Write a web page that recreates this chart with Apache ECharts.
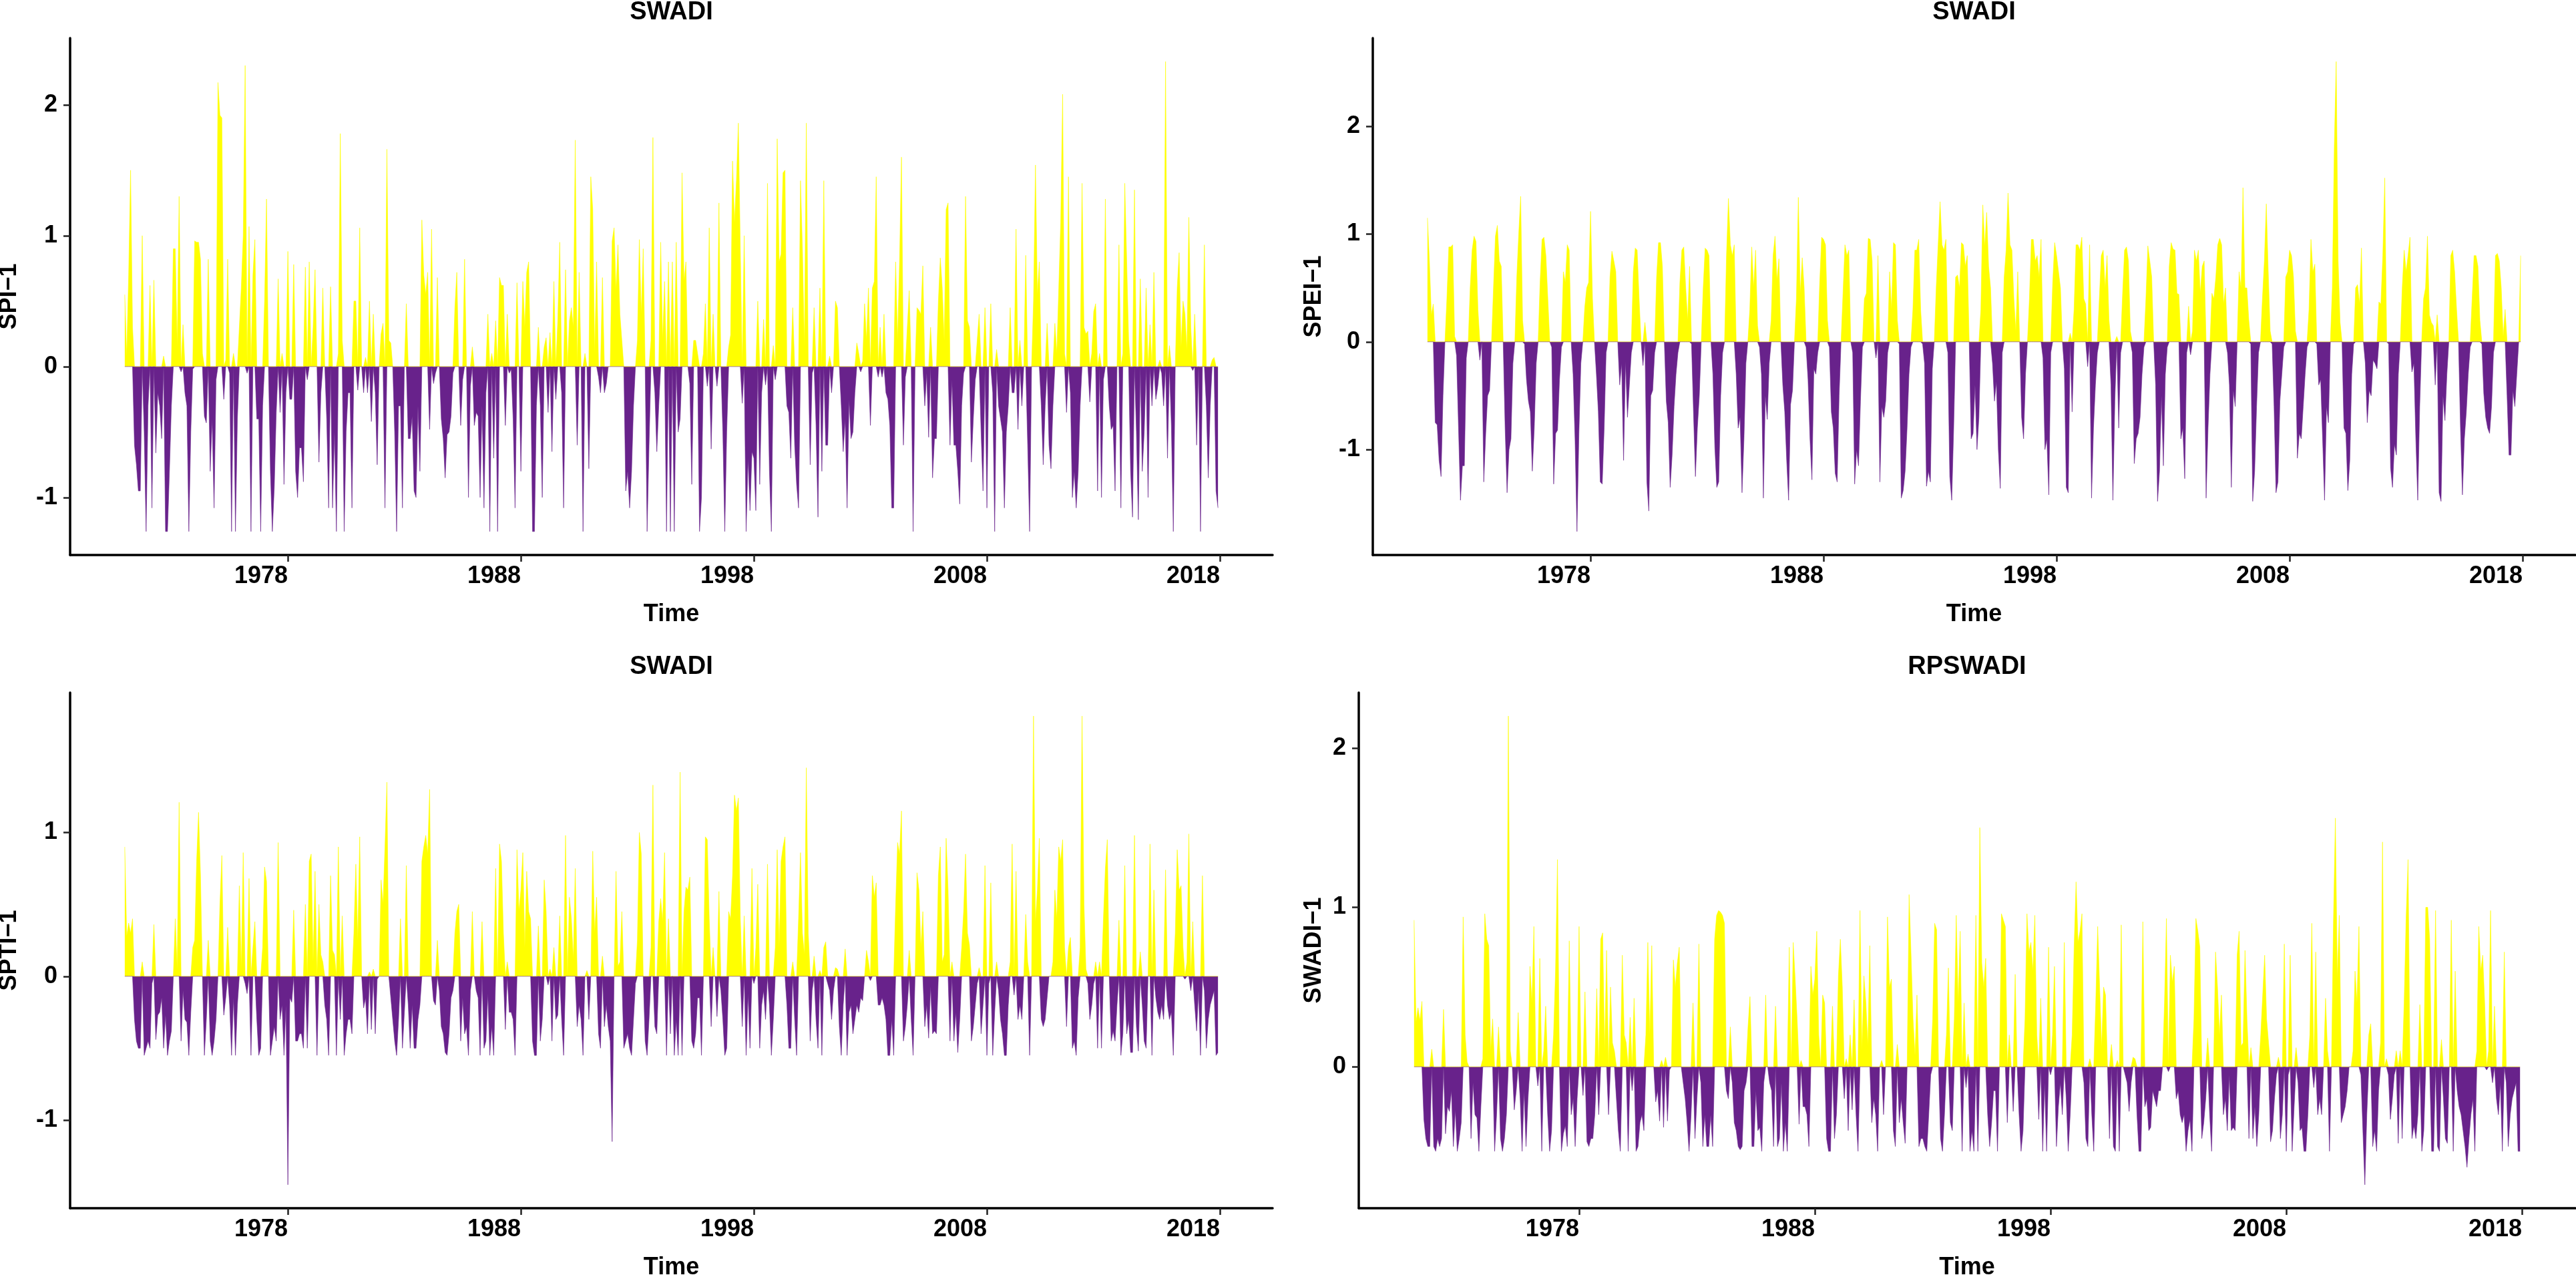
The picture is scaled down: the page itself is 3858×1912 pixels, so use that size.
<!DOCTYPE html>
<html>
<head>
<meta charset="utf-8">
<title>SWADI</title>
<script src="https://cdn.jsdelivr.net/npm/echarts@6/dist/echarts.min.js"></script>
<style>
  html, body { margin: 0; padding: 0; background: #fff; }
  #chart { width: 3858px; height: 1912px; }
</style>
</head>
<body>
<div id="chart"></div>
<script>
// monthly series, Jan 1971 .. Dec 2017 (one row per year)
const startYear = 1971;
const xTicks = [1978, 1988, 1998, 2008, 2018];
const titles = ["SWADI", "SWADI", "SWADI", "RPSWADI"];
const yNames = ["SPI\u22121", "SPEI\u22121", "SPTI\u22121", "SWADI\u22121"];
const yTicks = [[-1, 0, 1, 2], [-1, 0, 1, 2], [-1, 0, 1], [0, 1, 2]];

const spi1 = [
  0.55, 0.08, 0.7, 1.5, 0.3, -0.6, -0.75, -0.95, -0.95, 1.0, -0.5, -1.26,
  -0.3, 0.62, -1.08, 0.66, -0.66, -0.2, -0.3, -0.55, 0.08, -1.26, -1.26, -0.8,
  -0.3, 0.9, 0.9, 0.15, 1.3, -0.04, 0.32, -0.2, -0.3, -1.26, -0.5, -0.02,
  0.96, 0.95, 0.95, 0.82, 0.1, -0.38, -0.43, 0.82, -0.8, -0.4, -1.08, -0.1,
  2.17, 1.92, 1.9, -0.25, 0.05, 0.82, -0.05, -1.26, 0.1, -1.26, -0.4, 0.3,
  0.6, 1.0, 2.3, -0.05, 1.07, -1.26, 0.7, 0.97, -0.4, -0.4, -1.26, -0.3,
  0.5, 1.28, 0.0, -0.8, -1.26, -0.92, -0.35, 0.67, -0.35, 0.1, -0.9, -0.2,
  0.88, -0.25, -0.25, 0.78, -0.8, -1.0, -0.62, -0.62, -0.88, 0.76, -0.1, 0.8,
  0.0, 0.3, 0.74, 0.0, -0.73, -0.2, 0.6, 0.0, -0.4, -1.08, 0.61, -1.08,
  -0.5, -1.26, 0.1, 1.78, 0.2, -1.26, -0.5, -0.2, -0.2, -1.08, 0.5, 0.5,
  -0.18, 1.06, 0.0, -0.2, 0.07, -0.2, 0.5, -0.42, 0.4, -0.2, -0.75, 0.0,
  0.25, 0.33, -1.08, 1.66, 0.2, 0.18, 0.0, -0.5, -1.26, -0.3, -0.3, -1.08,
  0.0, 0.48, -0.55, -0.55, -0.38, -0.95, -1.0, -0.3, -0.8, 1.12, 0.7, 0.55,
  0.72, -0.48, 1.05, -0.13, -0.05, 0.68, 0.0, -0.4, -0.55, -0.85, -0.52, -0.5,
  -0.38, -0.05, 0.45, 0.72, 0.0, -0.45, -0.1, 0.82, 0.0, -1.0, -0.15, 0.15,
  -0.45, -0.35, -0.38, -1.0, -0.3, -1.08, -0.2, 0.4, -1.26, 0.1, -0.7, 0.35,
  -1.26, 0.68, 0.62, 0.62, -0.45, 0.4, -0.05, -0.02, -0.4, -1.08, 0.64, 0.0,
  -0.8, 0.65, 0.3, 0.72, 0.8, 0.0, -1.26, -1.26, -0.3, 0.3, -0.3, -1.0,
  0.15, 0.22, -0.35, 0.26, -0.65, 0.65, -0.25, 0.35, 0.95, -0.2, -1.08, 0.74,
  0.0, 0.35, 0.45, 0.3, 1.73, -0.6, 0.72, 0.0, -1.26, 0.1, 0.0, -0.78,
  1.45, 1.2, 0.1, 0.8, -0.08, -0.2, 0.68, -0.2, -0.13, 0.0, 0.0, 0.96,
  1.06, 0.58, 0.93, 0.4, 0.2, 0.0, -0.95, -0.8, -1.08, -0.8, -0.3, 0.0,
  0.2, 0.97, 0.4, 0.9, 0.0, -1.26, -0.6, 0.2, 1.75, -0.2, -0.65, -0.3,
  0.95, 0.2, 0.65, -1.26, 0.8, -1.26, 0.8, -1.26, 0.95, -0.5, -0.4, 1.48,
  0.65, 0.8, 0.0, -0.13, -0.9, 0.2, 0.2, 0.1, -1.26, -1.0, 0.1, 0.48,
  -0.15, 1.06, -0.63, 0.4, 0.0, -0.15, 1.25, 0.0, -0.5, -1.26, -0.5, 0.15,
  0.24, 1.57, 1.1, 1.42, 1.86, 0.9, -0.28, 1.0, -1.26, -0.7, -1.1, -0.65,
  -0.7, -1.1, 0.5, -0.9, -0.2, 0.36, -0.14, 1.4, -0.8, -1.26, 0.16, -0.1,
  1.74, 0.8, 0.86, 1.48, 1.5, -0.3, -0.35, -0.7, 0.45, -0.6, -0.9, -1.08,
  1.42, 0.9, 0.15, 1.86, 0.0, -0.75, -0.05, 0.45, -0.45, -1.15, 0.6, -0.8,
  1.42, -0.6, -0.6, 0.08, -0.2, 0.0, 0.5, 0.45, 0.0, -0.3, -0.65, -0.4,
  -1.08, -0.25, -0.55, -0.5, -0.2, 0.18, 0.1, -0.04, 0.04, 0.48, 0.2, 0.6,
  -0.45, 0.6, 0.65, 1.45, -0.08, 0.3, -0.08, 0.4, -0.2, -0.25, -0.45, -1.08,
  -1.08, 0.8, 0.2, 0.8, 1.6, -0.6, -0.08, 0.3, 0.58, 0.0, -1.26, 0.0,
  0.45, 0.43, 0.4, 0.77, -0.3, -0.05, -0.54, 0.3, -0.85, -0.55, -0.55, 0.5,
  0.83, 0.6, 0.2, 1.2, 1.25, -0.6, -0.1, -0.6, -0.6, -0.8, -1.05, -0.3,
  -0.05, 1.3, 0.35, 0.3, -0.73, -0.4, -0.1, 0.2, 0.4, -0.5, -0.95, 0.45,
  -1.08, 0.0, 0.48, -0.2, -1.26, 0.13, -0.3, -0.4, -0.5, -1.08, -0.5, -0.3,
  0.45, -0.2, -0.2, 1.05, -0.48, 0.2, -0.3, 0.0, 0.85, -0.6, -1.26, 0.0,
  0.5, 1.54, 0.55, 0.8, -0.3, -0.75, -0.3, 0.33, -0.6, -0.78, -0.3, 0.33,
  0.1, 0.6, 1.1, 2.08, 0.1, -0.35, 1.45, -0.2, -1.0, -0.8, -1.08, -0.8,
  -0.3, 1.4, 0.3, 0.25, 0.27, -0.27, 0.1, 0.42, 0.48, -0.95, 0.1, -1.0,
  -0.1, 1.28, 0.0, -0.3, -0.48, -0.45, -0.95, 0.0, 0.93, -1.08, 0.1, 1.4,
  0.8, 0.2, -0.8, -1.15, 1.35, -0.5, -1.17, 0.67, -0.8, -0.5, 0.6, -1.0,
  0.32, -0.3, 0.72, -0.25, -0.15, 0.05, -0.05, -0.3, 2.33, -0.7, 0.16, -0.45,
  -1.26, 0.0, 0.6, 0.87, 0.15, 0.5, 0.4, 0.12, 1.14, 0.3, -0.03, 0.4,
  -0.6, 0.0, -1.26, 0.0, 0.93, -0.3, -0.85, -0.3, 0.05, 0.07, -0.95, -1.08
];

const spei1 = [
  1.15, 0.75, 0.25, 0.35, -0.75, -0.77, -1.1, -1.25, -0.5, 0.0, 0.4, 0.88,
  0.88, 0.9, 0.05, -0.13, -0.8, -1.47, -1.15, -1.15, -0.15, 0.0, 0.5, 0.85,
  0.98, 0.93, 0.3, -0.17, 0.0, -1.3, -0.85, -0.5, -0.45, 0.0, 0.5, 0.98,
  1.08, 0.75, 0.7, 0.0, -0.8, -1.4, -1.0, -0.9, -0.2, 0.0, 0.6, 1.0,
  1.35, 0.2, -0.02, -0.35, -0.55, -0.65, -1.2, -0.8, -0.2, 0.0, 0.55, 0.95,
  0.97, 0.8, 0.4, 0.0, -0.05, -1.32, -0.85, -0.82, -0.35, -0.05, 0.65, 0.55,
  0.9, 0.85, 0.0, -0.3, -0.9, -1.76, -0.85, -0.2, 0.0, 0.32, 0.5, 0.55,
  1.21, 0.4, 0.0, -0.3, -0.65, -1.3, -1.32, -0.8, -0.1, 0.0, 0.6, 0.84,
  0.75, 0.65, 0.0, -0.4, -0.2, -1.1, -0.18, -0.7, -0.4, -0.1, 0.65, 0.87,
  0.85, 0.4, 0.0, -0.22, 0.18, -1.3, -1.57, -0.5, -0.45, -0.1, 0.6, 0.92,
  0.92, 0.7, 0.0, -0.55, -0.75, -1.35, -1.05, -0.6, -0.3, -0.1, 0.55, 0.85,
  0.88, 0.5, 0.2, 0.7, -0.02, -0.65, -1.25, -0.8, -0.5, 0.0, 0.5, 0.87,
  0.85, 0.8, 0.0, -0.3, -0.98, -1.35, -1.3, -0.5, -0.1, 0.0, 0.8, 1.33,
  0.9, 0.8, 0.9, -0.3, -0.8, -0.7, -1.4, -0.9, -0.2, 0.0, 0.3, 0.88,
  0.5, 0.85, 0.15, -0.05, -0.3, -1.45, -0.5, -0.72, -0.2, 0.2, 0.8, 0.98,
  0.57, 0.77, 0.0, -0.4, -0.65, -1.1, -1.47, -0.58, -0.45, 0.0, 0.4, 1.34,
  0.45, 0.78, 0.5, -0.05, -0.35, -0.9, -1.28, -0.25, -0.3, -0.1, 0.55, 0.97,
  0.95, 0.9, 0.2, -0.05, -0.65, -0.8, -1.22, -1.3, -0.5, 0.0, 0.45, 0.9,
  0.8, 0.85, 0.0, -0.1, -1.32, -1.0, -1.15, -0.55, -0.05, 0.4, 0.45, 0.96,
  0.95, 0.75, 0.0, -0.15, 0.8, -1.3, -0.6, -0.7, -0.55, -0.1, 0.65, 0.3,
  0.92, 0.9, 0.2, -0.02, -1.45, -1.38, -1.2, -0.8, -0.3, -0.05, 0.3, 0.85,
  0.85, 0.95, 0.3, -0.02, -0.2, -1.34, -1.2, -1.3, -0.25, 0.0, 0.5, 0.9,
  1.3, 0.9, 0.85, 0.95, -0.1, -1.25, -1.47, -0.8, 0.6, 0.62, 0.5, 0.92,
  0.9, 0.7, 0.8, 0.0, -0.9, -0.85, -0.4, -1.0, -0.7, 0.3, 1.27, 0.88,
  1.2, 0.7, 0.5, -0.2, -0.55, -0.37, -1.0, -1.36, -0.1, 0.6, 0.85, 1.38,
  0.9, 0.85, 0.4, 0.1, 0.65, 0.0, -0.7, -0.9, -0.3, 0.0, 0.4, 0.95,
  0.95, 0.75, 0.8, 0.6, 0.95, -0.15, -1.0, -0.9, -1.42, -0.1, 0.55, 0.92,
  0.8, 0.65, 0.5, 0.0, -0.25, -1.35, -1.4, 0.08, -0.65, 0.3, 0.9, 0.9,
  0.85, 0.97, 0.4, 0.35, -0.23, 0.9, -1.45, -0.8, -0.4, -0.1, 0.4, 0.8,
  0.85, 0.5, 0.8, 0.2, -0.4, -1.47, -0.55, 0.05, -0.8, -0.1, 0.45, 0.85,
  0.88, 0.75, 0.1, -0.1, -1.13, -0.9, -0.85, -0.7, -0.3, -0.05, 0.4, 0.89,
  0.75, 0.6, 0.0, -0.4, -1.48, -1.2, -0.5, -1.15, -0.3, -0.05, 0.7, 0.92,
  0.86, 0.85, 0.45, 0.44, -0.9, -0.8, -1.27, -0.1, 0.33, -0.12, 0.1, 0.85,
  0.75, 0.85, 0.45, 0.7, 0.75, -1.45, -0.8, -0.3, 0.45, 0.4, 0.6, 0.9,
  0.96, 0.9, 0.35, 0.5, -0.1, -0.4, -1.35, -0.45, -0.6, 0.0, 0.65, 0.5,
  1.43, 0.5, 0.5, 0.2, -0.02, -1.48, -1.2, -0.6, -0.1, 0.0, 0.4, 0.75,
  1.28, 0.65, 0.1, -0.02, -0.6, -1.4, -1.3, -0.55, -0.3, -0.05, 0.6, 0.65,
  0.85, 0.8, 0.6, 0.1, -1.08, -0.85, -0.9, -0.6, -0.3, -0.05, 0.3, 0.95,
  0.65, 0.72, -0.02, -0.4, -0.35, -0.9, -1.47, -0.6, -0.75, 0.0, 0.5, 1.8,
  2.6, 0.75, 0.18, 0.0, -0.8, -0.85, -1.38, -1.1, -0.3, -0.02, 0.5, 0.53,
  0.35, 0.87, 0.0, -0.2, -0.75, -0.45, -0.5, -0.17, -0.2, -0.25, 0.37, 0.35,
  0.8, 1.52, 0.0, -0.02, -1.17, -1.35, -0.95, -1.05, -0.3, 0.0, 0.5, 0.85,
  0.65, 0.8, 0.97, -0.28, -0.2, -0.9, -1.47, -0.6, 0.0, 0.4, 0.5, 0.98,
  0.25, 0.18, 0.15, -0.4, 0.25, -1.4, -1.48, -0.5, -0.73, -0.3, 0.0, 0.8,
  0.85, 0.65, 0.3, 0.0, -0.8, -1.42, -0.9, -0.65, -0.3, -0.05, 0.4, 0.8,
  0.8, 0.7, 0.2, -0.02, -0.48, -0.7, -0.8, -0.85, -0.6, -0.1, 0.8, 0.82,
  0.75, 0.5, 0.05, 0.3, -0.5, -1.05, -1.05, -0.45, -0.6, -0.3, 0.0, 0.8
];

const spti1 = [
  0.9, 0.28, 0.37, 0.3, 0.4, -0.3, -0.45, -0.5, -0.5, 0.1, -0.55, -0.5,
  -0.45, -0.5, -0.05, 0.36, -0.44, -0.27, -0.25, -0.15, -0.5, -0.27, -0.55, -0.45,
  -0.38, 0.0, 0.4, 0.05, 1.21, -0.45, -0.1, -0.3, -0.32, -0.55, -0.25, 0.2,
  0.25, 0.8, 1.14, 0.7, 0.0, -0.55, -0.3, 0.25, -0.45, -0.55, -0.45, -0.3,
  0.0, 0.5, 0.84, -0.27, -0.15, 0.34, -0.2, -0.55, -0.15, -0.55, -0.2, 0.63,
  0.05, 0.86, -0.05, -0.12, 0.68, -0.55, 0.2, 0.38, -0.3, -0.55, -0.5, 0.2,
  0.76, 0.66, 0.0, -0.55, -0.45, -0.35, -0.45, 0.93, -0.3, -0.2, -0.55, -0.2,
  -1.45, -0.15, -0.18, 0.46, -0.45, -0.45, -0.4, -0.4, -0.5, 0.5, -0.5, 0.8,
  0.85, 0.1, 0.73, -0.55, 0.5, 0.15, 0.1, -0.2, -0.3, -0.55, 0.7, 0.18,
  0.15, -0.55, 0.9, -0.3, 0.42, -0.55, -0.4, -0.3, -0.3, -0.4, 0.3, 0.78,
  0.25, 0.97, 0.0, -0.22, -0.15, -0.4, 0.03, -0.37, 0.05, -0.4, -0.02, 0.0,
  0.67, 0.5, 0.9, 1.35, 0.0, -0.15, -0.3, -0.45, -0.55, -0.3, 0.4, -0.5,
  -0.25, 0.77, -0.2, -0.5, -0.2, -0.5, -0.5, -0.3, -0.2, 0.8, 0.9, 0.98,
  0.85, 1.3, 0.0, -0.17, -0.2, 0.25, -0.1, -0.35, -0.4, -0.53, -0.55, -0.4,
  -0.15, -0.1, 0.3, 0.45, 0.5, -0.45, -0.15, -0.4, -0.35, -0.55, -0.1, 0.45,
  0.0, -0.1, -0.15, -0.55, 0.38, -0.5, -0.45, -0.12, -0.55, -0.35, -0.55, 0.75,
  0.0, 0.92, 0.8, 0.3, -0.37, 0.1, -0.25, -0.25, -0.3, -0.55, 0.88, 0.45,
  0.6, 0.86, 0.2, 0.73, 0.45, 0.4, -0.45, -0.55, -0.55, 0.35, -0.45, -0.3,
  0.67, 0.45, -0.06, 0.05, -0.45, 0.2, -0.3, -0.27, 0.42, -0.3, -0.55, 0.98,
  0.0, 0.55, 0.4, 0.12, 0.75, -0.35, -0.2, -0.3, -0.55, 0.0, 0.04, -0.3,
  0.0, 0.87, 0.3, 0.55, -0.4, -0.5, 0.14, -0.35, -0.2, -0.35, -0.45, -1.15,
  0.0, 0.73, 0.07, 0.1, 0.45, -0.5, -0.45, -0.4, -0.5, -0.55, -0.3, -0.05,
  0.25, 1.0, 0.85, 0.0, -0.45, -0.55, -0.3, 0.2, 1.33, -0.35, -0.4, 0.38,
  0.54, 0.38, 0.86, -0.55, 0.4, -0.4, 0.0, -0.55, -0.3, -0.55, 1.42, -0.55,
  0.45, 0.62, 0.6, 0.69, -0.45, -0.5, -0.4, -0.15, -0.15, -0.55, 0.0, 0.97,
  0.95, 0.4, -0.35, 0.2, 0.0, -0.28, 0.59, -0.1, -0.3, -0.55, -0.5, 0.45,
  0.4, 0.7, 1.26, 1.15, 1.24, 0.4, -0.35, 0.42, -0.55, -0.12, -0.5, 0.75,
  -0.05, 0.2, 0.64, -0.5, -0.2, -0.1, -0.3, 0.78, -0.2, -0.55, -0.3, 0.2,
  0.88, 0.2, 0.8, 0.9, 0.97, -0.2, -0.5, -0.5, 0.1, -0.3, -0.55, 0.4,
  0.86, 0.3, 0.15, 1.45, 0.3, -0.45, -0.1, 0.14, -0.3, -0.5, 0.04, -0.55,
  0.2, 0.24, -0.05, -0.1, -0.3, -0.1, 0.06, 0.05, -0.35, -0.55, -0.2, 0.19,
  -0.55, -0.25, -0.2, -0.4, -0.3, -0.2, -0.25, -0.15, -0.17, 0.0, 0.18, 0.1,
  -0.03, 0.7, 0.55, 0.65, -0.2, -0.2, -0.15, -0.2, -0.3, -0.55, -0.55, -0.3,
  -0.55, 0.5, 0.93, 0.85, 1.15, -0.45, -0.35, -0.2, 0.18, -0.3, -0.55, 0.0,
  0.72, 0.6, 0.2, 0.45, -0.35, -0.2, -0.43, -0.07, -0.4, -0.38, -0.4, 0.7,
  0.9, 0.1, 0.15, 0.96, 0.6, -0.45, 0.1, -0.45, -0.25, -0.53, -0.3, 0.2,
  0.45, 0.85, 0.3, 0.22, -0.45, -0.35, -0.2, -0.05, 0.06, -0.4, -0.2, 0.77,
  -0.55, -0.05, 0.65, -0.55, -0.25, 0.1, -0.1, -0.3, -0.4, -0.55, -0.55, -0.2,
  0.1, 0.92, -0.13, 0.73, -0.3, -0.2, -0.3, 0.0, 0.43, 0.1, -0.55, 0.0,
  1.81, 0.38, 0.6, 0.96, -0.3, -0.35, -0.3, -0.15, 0.0, 0.0, 0.1, 0.6,
  0.4, 0.9, 0.8, 0.95, 0.2, -0.35, 0.2, 0.27, -0.5, -0.45, -0.55, -0.15,
  0.2, 1.81, 0.5, 0.05, -0.05, -0.3, -0.2, -0.05, 0.1, -0.5, 0.1, -0.5,
  0.4, 0.75, 0.95, 0.0, -0.45, -0.38, -0.45, -0.2, 0.39, -0.55, -0.4, 0.77,
  -0.4, -0.3, -0.53, -0.53, 0.98, -0.35, -0.52, 0.17, -0.2, -0.45, -0.5, 0.0,
  0.92, -0.55, 0.6, -0.15, -0.25, -0.3, -0.2, -0.3, 0.74, -0.2, -0.3, -0.25,
  -0.55, 0.3, 0.88, 0.6, 0.63, 0.2, -0.02, 0.1, 0.99, -0.1, 0.38, -0.2,
  -0.38, -0.1, -0.55, 0.7, -0.1, -0.5, -0.3, -0.2, -0.15, -0.1, -0.55, -0.53
];

const swadi1 = [
  0.92, 0.28, 0.37, 0.29, 0.41, -0.33, -0.45, -0.5, -0.5, 0.11, -0.5, -0.53,
  -0.45, -0.5, -0.45, 0.36, -0.42, -0.25, -0.28, -0.15, -0.5, -0.27, -0.53, -0.45,
  -0.35, 0.94, 0.2, 0.03, 0.0, -0.45, -0.1, -0.3, -0.32, -0.53, -0.25, 0.05,
  0.96, 0.8, 0.76, 0.1, 0.3, -0.53, -0.3, 0.25, -0.45, -0.53, -0.45, -0.3,
  2.2, 0.1, 0.0, -0.27, -0.15, 0.34, -0.2, -0.53, -0.15, -0.5, -0.2, 0.63,
  0.4, 0.88, 0.0, -0.12, 0.68, -0.53, 0.1, 0.38, -0.3, -0.53, -0.4, 0.2,
  0.6, 1.3, 0.0, -0.53, -0.42, -0.37, -0.5, 0.79, -0.3, -0.2, -0.5, -0.2,
  0.88, 0.0, -0.18, 0.47, -0.47, -0.5, -0.45, -0.45, -0.3, 0.49, -0.3, 0.8,
  0.84, 0.1, 0.73, -0.3, 0.5, 0.15, 0.1, -0.2, -0.4, -0.53, 0.7, 0.2,
  0.15, -0.53, 0.31, -0.15, 0.43, -0.53, -0.5, -0.35, -0.3, -0.4, 0.2, 0.78,
  0.2, 0.76, 0.0, -0.22, -0.15, -0.34, 0.04, -0.38, 0.06, -0.34, -0.02, 0.0,
  0.67, 0.5, 0.65, 0.75, 0.0, -0.1, -0.2, -0.35, -0.53, -0.3, 0.4, -0.45,
  -0.2, 0.77, -0.1, -0.5, -0.3, -0.5, -0.5, -0.3, -0.5, 0.8, 0.95, 0.98,
  0.97, 0.95, 0.9, -0.15, -0.2, 0.25, -0.1, -0.35, -0.4, -0.5, -0.52, -0.5,
  -0.15, -0.1, 0.25, 0.44, -0.5, -0.5, -0.15, -0.4, -0.38, -0.53, -0.1, 0.45,
  0.0, -0.1, -0.15, -0.5, 0.38, -0.5, -0.45, -0.1, -0.53, -0.35, -0.53, 0.75,
  0.0, 0.78, 0.55, 0.3, -0.36, 0.04, -0.25, -0.25, -0.3, -0.5, 0.63, 0.45,
  0.55, 0.85, 0.2, 0.0, 0.45, 0.4, -0.45, -0.53, -0.53, 0.38, -0.45, -0.3,
  0.57, 0.8, 0.5, -0.2, 0.05, -0.4, 0.2, -0.27, 0.42, -0.3, -0.53, 0.98,
  0.1, 0.57, 0.4, 0.13, 0.76, -0.35, -0.2, -0.3, -0.53, 0.0, 0.04, -0.3,
  0.0, 0.94, 0.5, 0.55, -0.4, -0.5, 0.14, -0.35, -0.2, -0.35, -0.48, 0.0,
  1.08, 0.7, 0.3, 0.07, 0.45, -0.5, -0.45, -0.45, -0.5, -0.53, -0.3, -0.05,
  0.3, 0.9, 0.86, 0.0, -0.45, -0.53, -0.3, 0.2, 0.62, -0.35, -0.4, 0.3,
  0.95, 0.4, 0.85, -0.53, 0.4, -0.13, 0.08, -0.53, -0.4, -0.53, 0.95, -0.53,
  1.5, 0.65, 0.5, 0.68, -0.3, -0.5, -0.35, -0.15, -0.15, -0.53, 0.0, 0.96,
  0.92, 0.88, -0.35, 0.2, 0.0, -0.28, 0.58, 0.0, -0.3, -0.53, -0.4, 0.3,
  0.96, 0.72, 0.78, 0.6, 0.95, 0.2, -0.33, 0.43, -0.53, -0.1, -0.53, 0.75,
  -0.05, 0.2, 0.63, -0.5, -0.25, -0.1, -0.3, 0.78, -0.2, -0.53, -0.3, 0.2,
  0.75, 1.16, 0.78, 0.85, 0.96, -0.1, -0.45, -0.5, 0.05, -0.3, -0.53, 0.4,
  0.88, 0.5, 0.12, 0.5, 0.45, 0.0, -0.45, 0.14, -0.5, -0.53, 0.04, -0.53,
  0.89, 0.0, -0.05, -0.1, -0.28, -0.1, 0.06, 0.05, -0.3, -0.53, -0.53, 0.91,
  -0.25, -0.2, -0.4, -0.38, -0.15, -0.2, -0.25, -0.15, -0.15, 0.0, 0.4, 0.93,
  -0.03, 0.7, 0.53, 0.63, -0.2, -0.15, -0.3, -0.35, -0.3, -0.53, -0.4, -0.33,
  -0.53, 0.3, 0.93, 0.85, 0.75, -0.45, -0.35, -0.2, 0.18, -0.3, -0.53, 0.0,
  0.72, 0.5, 0.2, 0.45, -0.3, -0.2, -0.4, -0.05, -0.4, -0.38, -0.4, 0.7,
  0.85, 0.13, 0.15, 0.73, 0.3, -0.45, 0.12, -0.45, -0.25, -0.5, -0.3, 0.2,
  0.45, 0.7, 0.3, 0.15, -0.47, -0.4, -0.2, -0.05, 0.06, -0.45, -0.3, 0.77,
  -0.53, -0.05, 0.7, -0.53, -0.25, 0.12, -0.1, -0.4, -0.38, -0.53, -0.53, -0.3,
  0.2, 0.9, -0.13, 0.72, -0.3, -0.2, -0.3, 0.0, 0.43, 0.1, -0.53, 0.0,
  0.9, 1.56, 0.55, 0.95, -0.35, -0.3, -0.25, -0.15, 0.0, 0.0, 0.1, 0.6,
  0.4, 0.88, -0.05, -0.4, -0.74, -0.3, 0.2, 0.27, -0.5, -0.4, -0.53, -0.15,
  0.15, 1.41, 0.0, 0.05, -0.05, -0.33, -0.2, -0.05, 0.1, -0.48, 0.1, -0.45,
  0.4, 0.93, 1.3, 0.0, -0.45, -0.37, -0.45, -0.3, 0.39, -0.53, -0.4, 1.0,
  1.0, 0.8, -0.53, -0.53, 0.98, -0.5, -0.53, 0.17, -0.2, -0.45, -0.48, 0.0,
  0.92, -0.53, 0.6, -0.15, -0.25, -0.3, -0.4, -0.5, -0.63, -0.45, -0.3, -0.2,
  -0.53, 0.1, 0.88, 0.6, 0.7, 0.4, -0.02, 0.1, 0.98, -0.1, 0.38, -0.2,
  -0.3, -0.1, -0.53, 0.72, -0.1, -0.5, -0.3, -0.2, -0.15, -0.1, -0.53, -0.53
];

const FONT = "'Liberation Sans', Arial, Helvetica, sans-serif";
const YELLOW = "#FFFF00";
const PURPLE = "#68228B";

// panel layout in pixels (top-left, top-right, bottom-left, bottom-right)
const panels = [
  { values: spi1, grid: { left: 105, top: 57, width: 1801, height: 774 }, nameGap: 73 },
  { values: spei1, grid: { left: 2056, top: 57, width: 1801, height: 774 }, nameGap: 70 },
  { values: spti1, grid: { left: 105, top: 1037, width: 1801, height: 772 }, nameGap: 73 },
  { values: swadi1, grid: { left: 2035, top: 1037, width: 1822, height: 772 }, nameGap: 49 }
];

function padMin(v) { return v.min - (v.max - v.min) * 0.05; }
function padMax(v) { return v.max + (v.max - v.min) * 0.05; }

const boldText = { fontFamily: FONT, fontSize: 36, fontWeight: "bold", color: "#000", lineHeight: 36 };
const axisLine = { show: true, onZero: false, lineStyle: { color: "#000", width: 3.5 } };
const tickStyle = { color: "#222", width: 2.5 };

// one area for the part above zero, one for the part below
function areaSeries(values, i, sign) {
  return {
    type: "line",
    xAxisIndex: i,
    yAxisIndex: i,
    data: values.map((v, k) => [startYear + k / 12, sign > 0 ? Math.max(v, 0) : Math.min(v, 0)]),
    symbol: "none",
    showSymbol: false,
    silent: true,
    color: sign > 0 ? YELLOW : PURPLE,
    lineStyle: { width: 0.6, color: sign > 0 ? YELLOW : PURPLE },
    areaStyle: { opacity: 1, color: sign > 0 ? YELLOW : PURPLE, origin: "auto" }
  };
}

function getOption() {
  const series = [];
  panels.forEach((p, i) => {
    series.push(areaSeries(p.values, i, 1));
    series.push(areaSeries(p.values, i, -1));
  });

  return {
    backgroundColor: "#fff",
    animation: false,
    title: panels.map((p, i) => ({
      text: titles[i],
      left: p.grid.left + p.grid.width / 2,
      top: p.grid.top - 57,
      textAlign: "center",
      padding: 0,
      textStyle: { fontFamily: FONT, fontSize: 38, fontWeight: "bold", color: "#000", lineHeight: 38 }
    })),
    grid: panels.map((p) => ({ ...p.grid, containLabel: false, outerBoundsMode: "none" })),
    xAxis: panels.map((p, i) => ({
      type: "value",
      gridIndex: i,
      min: padMin,
      max: padMax,
      name: "Time",
      nameLocation: "middle",
      nameGap: 71,
      nameTextStyle: boldText,
      axisLine: axisLine,
      axisTick: { show: true, length: 10, customValues: xTicks, lineStyle: tickStyle },
      axisLabel: {
        customValues: xTicks,
        formatter: (v) => String(v),
        align: "right",
        margin: 14,
        ...boldText
      },
      splitLine: { show: false }
    })),
    yAxis: panels.map((p, i) => ({
      type: "value",
      gridIndex: i,
      min: padMin,
      max: padMax,
      name: yNames[i],
      nameLocation: "middle",
      nameGap: p.nameGap,
      nameTextStyle: boldText,
      axisLine: axisLine,
      axisTick: { show: true, length: 10, customValues: yTicks[i], lineStyle: tickStyle },
      axisLabel: {
        customValues: yTicks[i],
        formatter: (v) => String(v),
        margin: 19,
        verticalAlign: "middle",
        padding: [0, 0, 22, 0],
        ...boldText
      },
      splitLine: { show: false }
    })),
    series: series
  };
}

const chart = echarts.init(document.getElementById("chart"), null, { renderer: "canvas" });
chart.setOption(getOption());
</script>
</body>
</html>
